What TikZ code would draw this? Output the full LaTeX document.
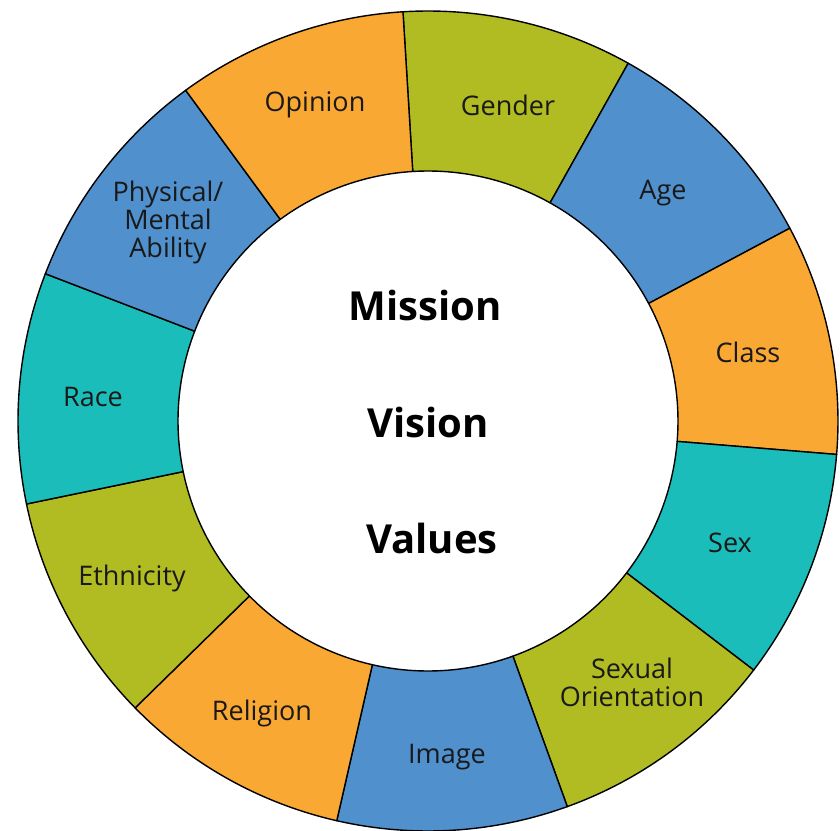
\documentclass[tikz,border=0pt]{standalone}
\usepackage{fontspec}
\setmainfont{Open Sans}
\usepackage{tikz}
\usepackage{xcolor}
\definecolor{ringorange}{RGB}{249,168,52}
\definecolor{ringolive}{RGB}{176,188,34}
\definecolor{ringblue}{RGB}{79,144,205}
\definecolor{ringteal}{RGB}{27,189,186}

\begin{document}
\begin{tikzpicture}[x=1pt,y=1pt]
\tikzstyle{every path}=[line width=1.4pt]

\edef\rout{410pt}
\edef\rin{250pt}
\tikzstyle{wedge}=[draw=black,line join=round]
\tikzstyle{ringlabel}=[text=black!90,align=center,inner sep=0pt,font=\fontsize{27}{28}\selectfont]
\tikzstyle{hub}=[text=black,inner sep=0pt,font=\fontsize{40}{44}\selectfont\bfseries]

\useasboundingbox (-428,-409) rectangle (412,421);

\draw[wedge,fill=ringolive] (93.5:\rin) -- (93.5:\rout) arc[start angle=93.5,end angle=60.77,radius=\rout] -- (60.77:\rin) arc[start angle=60.77,end angle=93.5,radius=\rin] -- cycle;
\draw[wedge,fill=ringblue] (60.77:\rin) -- (60.77:\rout) arc[start angle=60.77,end angle=28.05,radius=\rout] -- (28.05:\rin) arc[start angle=28.05,end angle=60.77,radius=\rin] -- cycle;
\draw[wedge,fill=ringorange] (28.05:\rin) -- (28.05:\rout) arc[start angle=28.05,end angle=-4.68,radius=\rout] -- (-4.68:\rin) arc[start angle=-4.68,end angle=28.05,radius=\rin] -- cycle;
\draw[wedge,fill=ringteal] (-4.68:\rin) -- (-4.68:\rout) arc[start angle=-4.68,end angle=-37.41,radius=\rout] -- (-37.41:\rin) arc[start angle=-37.41,end angle=-4.68,radius=\rin] -- cycle;
\draw[wedge,fill=ringolive] (-37.41:\rin) -- (-37.41:\rout) arc[start angle=-37.41,end angle=-70.14,radius=\rout] -- (-70.14:\rin) arc[start angle=-70.14,end angle=-37.41,radius=\rin] -- cycle;
\draw[wedge,fill=ringblue] (-70.14:\rin) -- (-70.14:\rout) arc[start angle=-70.14,end angle=-102.86,radius=\rout] -- (-102.86:\rin) arc[start angle=-102.86,end angle=-70.14,radius=\rin] -- cycle;
\draw[wedge,fill=ringorange] (-102.86:\rin) -- (-102.86:\rout) arc[start angle=-102.86,end angle=-135.59,radius=\rout] -- (-135.59:\rin) arc[start angle=-135.59,end angle=-102.86,radius=\rin] -- cycle;
\draw[wedge,fill=ringolive] (-135.59:\rin) -- (-135.59:\rout) arc[start angle=-135.59,end angle=-168.32,radius=\rout] -- (-168.32:\rin) arc[start angle=-168.32,end angle=-135.59,radius=\rin] -- cycle;
\draw[wedge,fill=ringteal] (-168.32:\rin) -- (-168.32:\rout) arc[start angle=-168.32,end angle=-201.05,radius=\rout] -- (-201.05:\rin) arc[start angle=-201.05,end angle=-168.32,radius=\rin] -- cycle;
\draw[wedge,fill=ringblue] (-201.05:\rin) -- (-201.05:\rout) arc[start angle=-201.05,end angle=-233.77,radius=\rout] -- (-233.77:\rin) arc[start angle=-233.77,end angle=-201.05,radius=\rin] -- cycle;
\draw[wedge,fill=ringorange] (-233.77:\rin) -- (-233.77:\rout) arc[start angle=-233.77,end angle=-266.5,radius=\rout] -- (-266.5:\rin) arc[start angle=-266.5,end angle=-233.77,radius=\rin] -- cycle;

\node[ringlabel] (gender) at (80,316) {Gender};
\node[ringlabel] (age) at (235,228) {Age};
\node[ringlabel] (class) at (320,69) {Class};
\node[ringlabel] (sex) at (302,-122) {Sex};
\node[ringlabel] (orient) at (204,-261) {Sexual\\Orientation};
\node[ringlabel] (image) at (19,-336) {Image};
\node[ringlabel] (religion) at (-166,-292) {Religion};
\node[ringlabel] (ethnic) at (-296,-157) {Ethnicity};
\node[ringlabel] (race) at (-335,24) {Race};
\node[ringlabel] (ability) at (-260,199) {Physical/\\Mental\\Ability};
\node[ringlabel] (opinion) at (-113,316) {Opinion};

\node[hub] (mission) at (-3,116) {Mission};
\node[hub] (vision) at (0,-1) {Vision};
\node[hub] (values) at (4,-117) {Values};
\end{tikzpicture}
\end{document}
